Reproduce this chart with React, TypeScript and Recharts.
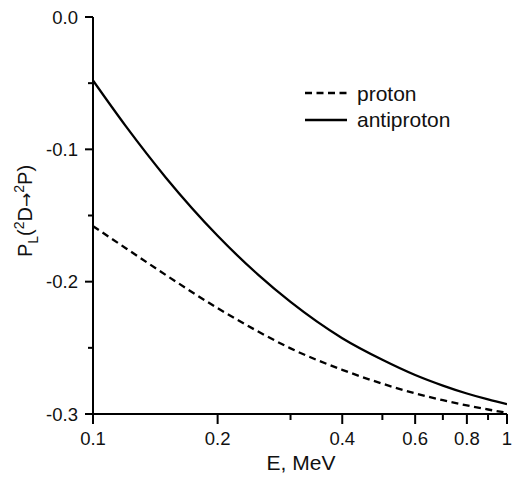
import { LineChart, Line, XAxis, YAxis, Legend, Label } from "recharts"

const energy = [0.1, 0.12, 0.15, 0.2, 0.25, 0.3, 0.4, 0.5, 0.6, 0.7, 0.8, 0.9, 1.0]
const proton = [-0.158, -0.1747, -0.195, -0.22, -0.2375, -0.2504, -0.2666, -0.2771, -0.2844, -0.2896, -0.2935, -0.2966, -0.2991]
const antiproton = [-0.048, -0.0825, -0.1214, -0.1653, -0.1945, -0.2153, -0.2427, -0.259, -0.2705, -0.2785, -0.2845, -0.289, -0.2925]

const xTicks = [0.1, 0.2, 0.3, 0.4, 0.5, 0.6, 0.7, 0.8, 0.9, 1.0]
const xLabeled = [0.1, 0.2, 0.4, 0.6, 0.8, 1.0]
const yTicks = [-0.3, -0.25, -0.2, -0.15, -0.1, -0.05, 0]
const yLabeled = [-0.3, -0.2, -0.1, 0]

const font = "'Liberation Sans', Arial, Helvetica, sans-serif"

const data = energy.map((e, i) => ({ E: e, proton: proton[i], antiproton: antiproton[i] }))

const isIn = (list: number[], v: number) => list.some((t) => Math.abs(t - v) < 1e-9)

function XTick(props: any) {
  const { x, y, payload } = props
  const v = payload.value
  const major = isIn(xLabeled, v)
  return (
    <g>
      <line x1={x} y1={y} x2={x} y2={y + (major ? 10 : 6)} stroke="#000" strokeWidth={2} />
      {major && (
        <text x={x} y={y + 30.5} textAnchor="middle" fontSize={18.5} fontFamily={font} fill="#111">
          {Math.abs(v - 1) < 1e-9 ? "1" : String(v)}
        </text>
      )}
    </g>
  )
}

function YTick(props: any) {
  const { x, y, payload } = props
  const v = payload.value
  const major = isIn(yLabeled, v)
  return (
    <g>
      <line x1={x - (major ? 8 : 5)} y1={y} x2={x} y2={y} stroke="#000" strokeWidth={2} />
      {major && (
        <text x={x - 15} y={y + 6.8} textAnchor="end" fontSize={18.5} fontFamily={font} fill="#111">
          {v === 0 ? "0.0" : v.toFixed(1)}
        </text>
      )}
    </g>
  )
}

function YLabel() {
  return (
    <text
      x={32}
      y={211}
      transform="rotate(-90, 32, 211)"
      textAnchor="middle"
      fontSize={20}
      fontFamily={font}
      fill="#111"
    >
      P
      <tspan fontSize={14} dy={6}>L</tspan>
      <tspan dy={-6}>(</tspan>
      <tspan fontSize={14} dy={-8}>2</tspan>
      <tspan dy={8}>D</tspan>
      <tspan fontFamily="'DejaVu Sans', sans-serif" fontSize={17}>→</tspan>
      <tspan fontSize={14} dy={-8}>2</tspan>
      <tspan dy={8}>P)</tspan>
    </text>
  )
}

function LegendBox() {
  const rows = [
    { name: "proton", dash: "7 4.5" },
    { name: "antiproton", dash: undefined },
  ]
  return (
    <div style={{ fontFamily: font, fontSize: 21, color: "#111" }}>
      {rows.map((r) => (
        <div key={r.name} style={{ display: "flex", alignItems: "center", height: 26.5 }}>
          <svg width={42} height={6} style={{ marginRight: 10 }}>
            <line x1={0} y1={3} x2={42} y2={3} stroke="#000" strokeWidth={2.3} strokeDasharray={r.dash} />
          </svg>
          <span style={{ lineHeight: "21px" }}>{r.name}</span>
        </div>
      ))}
    </div>
  )
}

export default function App() {
  return (
    <div style={{ position: "absolute", left: 0, top: 0, background: "#fff" }}>
      <LineChart width={516} height={477} data={data} margin={{ top: 17, right: 9, bottom: 0, left: 0 }}>
        <XAxis
          dataKey="E"
          type="number"
          scale="log"
          domain={[0.1, 1]}
          allowDataOverflow
          ticks={xTicks}
          interval={0}
          height={63}
          tickSize={0}
          tickMargin={0}
          tickLine={false}
          axisLine={{ stroke: "#000", strokeWidth: 2 }}
          tick={<XTick />}
        >
          <Label
            content={() => (
              <text x={301} y={470} textAnchor="middle" fontSize={21} fontFamily={font} fill="#111">
                E, MeV
              </text>
            )}
          />
        </XAxis>
        <YAxis
          type="number"
          domain={[-0.3, 0]}
          allowDataOverflow
          ticks={yTicks}
          interval={0}
          width={93}
          tickSize={0}
          tickMargin={0}
          tickLine={false}
          axisLine={{ stroke: "#000", strokeWidth: 2 }}
          tick={<YTick />}
        >
          <Label content={() => <YLabel />} />
        </YAxis>
        <Legend
          layout="horizontal"
          verticalAlign="middle"
          align="center"
          wrapperStyle={{ left: 305, top: 80, width: "auto" }}
          content={() => <LegendBox />}
        />
        <Line
          type="monotone"
          dataKey="proton"
          stroke="#000"
          strokeWidth={2.3}
          strokeDasharray="7 4.5"
          dot={false}
          isAnimationActive={false}
        />
        <Line
          type="monotone"
          dataKey="antiproton"
          stroke="#000"
          strokeWidth={2.3}
          dot={false}
          isAnimationActive={false}
        />
      </LineChart>
    </div>
  )
}
